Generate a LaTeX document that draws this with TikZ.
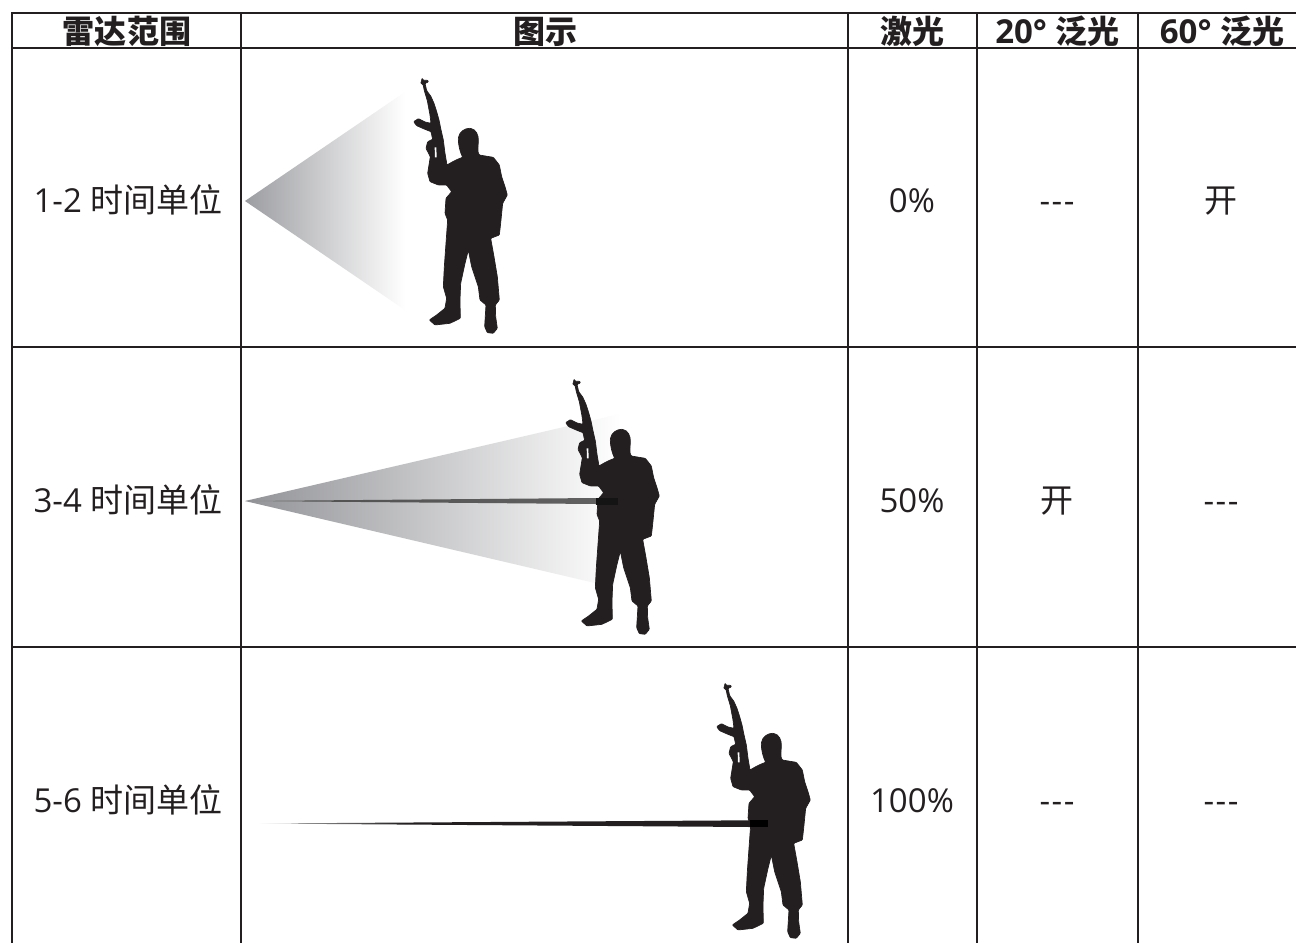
\documentclass[tikz,border=0pt]{standalone}
\usepackage{fontspec}
\setmainfont{Open Sans}
\newfontfamily\cjk[Scale=0.97]{Noto Sans CJK SC}
\newfontfamily\cjkcell{Noto Sans CJK SC}
\usetikzlibrary{fadings}
\definecolor{ink}{HTML}{231F20}
\definecolor{wedgeA}{HTML}{9C9DA1}
\definecolor{wedgeB}{HTML}{929397}
\pgfdeclarehorizontalshading{beamthree}{100bp}{color(0bp)=(white); color(25bp)=(white); color(30bp)=(black!45!white); color(40bp)=(ink); color(100bp)=(ink)}
\pgfdeclarehorizontalshading{beamtwo}{100bp}{color(0bp)=(black!45!white); color(25bp)=(black!45!white); color(35bp)=(black!68!white); color(75bp)=(black!62!white); color(100bp)=(black!62!white)}
\newcommand{\soldierpath}{
  (66,24) -- (70,31) -- (84,31) -- (85,36) -- (75,40) -- (80,62) -- (92,78) -- (102,100) -- (110,125) -- (117,150) -- (122,175) -- (130,210) -- (135,250) -- (141,285)
  .. controls (150,280) and (165,270) .. (188,262)
  .. controls (180,245) and (175,225) .. (175,205)
  .. controls (178,185) and (195,175) .. (210,175)
  .. controls (228,178) and (236,195) .. (235,215)
  .. controls (234,232) and (232,245) .. (238,255)
  -- (280,262) -- (298,285) -- (305,320) -- (315,350) -- (322,375) -- (308,400) -- (302,460) -- (298,495) -- (272,505) -- (282,560) -- (292,620) -- (298,690) -- (286,705) -- (287,740) -- (292,775) -- (280,790) -- (262,788) -- (254,770) -- (258,705) -- (240,690) -- (235,650) -- (215,590) -- (205,540) -- (195,580) -- (182,640) -- (180,690) -- (181,745) -- (150,760) -- (105,765) -- (88,750) -- (110,735) -- (135,715) -- (140,685) -- (130,650) -- (133,590) -- (143,450) -- (135,430) -- (138,385) -- (155,365) -- (140,345) -- (115,345) -- (90,335) -- (83,310) -- (91,260) -- (78,235) -- (83,215) -- (98,208) -- (93,185) -- (75,178) -- (50,167) -- (41,155) -- (55,146) -- (75,156) -- (93,160) -- (90,135) -- (82,92) -- (73,62) -- (69,43) -- (62,40) -- (65,32) -- cycle}
\tikzset{
  grid line/.style={draw=ink,line width=1.5pt},
  head rule/.style={draw=ink,line width=2pt},
  cell/.style={font=\fontsize{33}{36}\selectfont,text=ink,inner sep=0pt,anchor=base},
  head/.style={font=\fontsize{33}{36}\selectfont\bfseries,text=ink,inner sep=0pt,anchor=base},
  soldier/.style={fill=ink,draw=ink,line width=0.7pt,line join=round,rounded corners=0.8pt,x=0.3333pt,y=-0.3333pt},
  gungap/.style={fill=white,x=0.3333pt,y=-0.3333pt},
}
\newcommand{\threedash}{-\kern1.5pt-\kern1.5pt-}
\begin{document}
\begin{tikzpicture}[x=1pt,y=-1pt]
\useasboundingbox (0,0) rectangle (1296,943);
\fill[white] (0,0) rectangle (1296,943);

% light wedges
\shade[left color=wedgeA,right color=white] (245,201) -- (405,92) -- (405,310) -- cycle;
\shade[left color=wedgeB,right color=white] (245,501) -- (620,414) -- (620,590) -- (595,583) -- cycle;

% soldiers
\begin{scope}[shift={(400,70)}]
  \filldraw[soldier] \soldierpath;
  \fill[gungap] (104,232) -- (109,232) -- (110,262) -- (105,262) -- cycle;
\end{scope}
\begin{scope}[shift={(552,371)}]
  \filldraw[soldier] \soldierpath;
  \fill[gungap] (104,232) -- (109,232) -- (110,262) -- (105,262) -- cycle;
\end{scope}
\begin{scope}[shift={(703,675)}]
  \filldraw[soldier] \soldierpath;
  \fill[gungap] (104,232) -- (109,232) -- (110,262) -- (105,262) -- cycle;
\end{scope}

% laser beams
\shade[shading=beamtwo] (245,501) -- (596,498) -- (596,504) -- cycle;
\fill[black!92!white] (596,498) rectangle (618,504.5);
\shade[shading=beamthree] (258,823.5) -- (750,820.3) -- (750,827) -- cycle;
\fill[black] (750,820.3) rectangle (768,827);

% grid
\draw[head rule] (12,13) -- (1296,13);
\draw[head rule] (12,47.5) -- (1296,47.5);
\draw[grid line] (12,347) -- (1296,347);
\draw[grid line] (12,647) -- (1296,647);
\draw[grid line] (12,12) -- (12,943);
\draw[grid line] (241,12) -- (241,943);
\draw[grid line] (848,12) -- (848,943);
\draw[grid line] (977,12) -- (977,943);
\draw[grid line] (1138,12) -- (1138,943);

% header
\node[head] (h1) at (127,43) {\cjk\bfseries 雷达范围};
\node[head] (h2) at (545.5,43) {\cjk\bfseries 图示};
\node[head] (h3) at (912,43) {\cjk\bfseries 激光};
\node[head] (h4) at (1057.5,43) {20° {\cjk\bfseries 泛光}};
\node[head] (h5) at (1222,43) {60° {\cjk\bfseries 泛光}};

% rows
\node[cell] (r1a) at (128,212) {1-2 {\cjkcell 时间单位}};
\node[cell] (r1b) at (912,212) {0\%};
\node[cell] (r1c) at (1057,212) {\threedash};
\node[cell] (r1d) at (1221,212) {\cjkcell 开};
\node[cell] (r2a) at (128,512) {3-4 {\cjkcell 时间单位}};
\node[cell] (r2b) at (912,512) {50\%};
\node[cell] (r2c) at (1057,512) {\cjkcell 开};
\node[cell] (r2d) at (1221,512) {\threedash};
\node[cell] (r3a) at (128,812) {5-6 {\cjkcell 时间单位}};
\node[cell] (r3b) at (912,812) {100\%};
\node[cell] (r3c) at (1057,812) {\threedash};
\node[cell] (r3d) at (1221,812) {\threedash};
\end{tikzpicture}
\end{document}
